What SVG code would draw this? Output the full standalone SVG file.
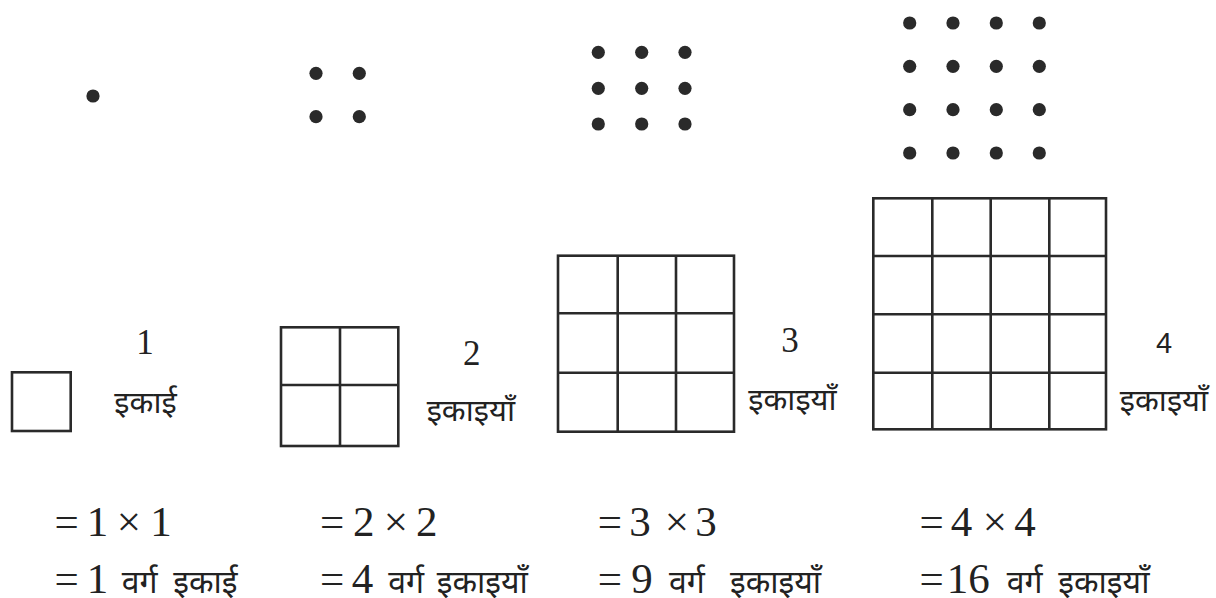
<svg xmlns="http://www.w3.org/2000/svg" width="1216" height="598" viewBox="0 0 1216 598">
<style>
.dot{fill:#2a2a2a}
.g{fill:none;stroke:#2a2a2a;stroke-width:2.6}
.num{font-family:"Liberation Serif","Times New Roman",serif;font-size:35px;fill:#222;text-anchor:middle}
.eq{font-family:"Liberation Serif","Times New Roman",serif;font-size:43px;fill:#222;text-anchor:middle}
.hi{font-family:"Noto Sans Devanagari","Noto Serif Devanagari","Noto Sans",sans-serif;font-size:31px;fill:#222}
.hb{font-family:"Noto Sans Devanagari","Noto Serif Devanagari","Noto Sans",sans-serif;font-size:32px;fill:#222}
</style>
<rect width="1216" height="598" fill="#fff"/>
<g id="dots1"><circle class="dot" cx="93" cy="96" r="6.6"/></g>
<g id="dots2">
<circle class="dot" cx="316" cy="73.3" r="6.6"/><circle class="dot" cx="359.3" cy="73.3" r="6.6"/>
<circle class="dot" cx="316" cy="116.7" r="6.6"/><circle class="dot" cx="359.3" cy="116.7" r="6.6"/>
</g>
<g id="dots3">
<circle class="dot" cx="598.3" cy="52.3" r="6.6"/><circle class="dot" cx="641.7" cy="52.3" r="6.6"/><circle class="dot" cx="685" cy="52.3" r="6.6"/>
<circle class="dot" cx="598.3" cy="88.3" r="6.6"/><circle class="dot" cx="641.7" cy="88.3" r="6.6"/><circle class="dot" cx="685" cy="88.3" r="6.6"/>
<circle class="dot" cx="598.3" cy="124" r="6.6"/><circle class="dot" cx="641.7" cy="124" r="6.6"/><circle class="dot" cx="685" cy="124" r="6.6"/>
</g>
<g id="dots4">
<circle class="dot" cx="909.7" cy="23" r="6.6"/><circle class="dot" cx="953" cy="23" r="6.6"/><circle class="dot" cx="996.3" cy="23" r="6.6"/><circle class="dot" cx="1039.3" cy="23" r="6.6"/>
<circle class="dot" cx="909.7" cy="66.3" r="6.6"/><circle class="dot" cx="953" cy="66.3" r="6.6"/><circle class="dot" cx="996.3" cy="66.3" r="6.6"/><circle class="dot" cx="1039.3" cy="66.3" r="6.6"/>
<circle class="dot" cx="909.7" cy="109.7" r="6.6"/><circle class="dot" cx="953" cy="109.7" r="6.6"/><circle class="dot" cx="996.3" cy="109.7" r="6.6"/><circle class="dot" cx="1039.3" cy="109.7" r="6.6"/>
<circle class="dot" cx="909.7" cy="153" r="6.6"/><circle class="dot" cx="953" cy="153" r="6.6"/><circle class="dot" cx="996.3" cy="153" r="6.6"/><circle class="dot" cx="1039.3" cy="153" r="6.6"/>
</g>
<g id="square1"><rect class="g" x="12" y="372.3" width="58.7" height="58.7"/></g>
<g id="square2"><rect class="g" x="281" y="327.3" width="117.3" height="118.7"/><path class="g" d="M340 327.3V446M281 385H398.3"/></g>
<g id="square3"><rect class="g" x="558" y="255.7" width="176" height="176"/><path class="g" d="M617.7 255.7V431.7M676 255.7V431.7M558 313.3H734M558 372.7H734"/></g>
<g id="square4"><rect class="g" x="873.3" y="198.3" width="232.7" height="231"/><path class="g" d="M932.3 198.3V429.3M990.7 198.3V429.3M1049.3 198.3V429.3M873.3 256H1106M873.3 314.3H1106M873.3 372.7H1106"/></g>
<g id="labels">
<text class="num" x="145" y="354">1</text>
<text class="hi" x="145.5" y="413" text-anchor="middle">इकाई</text>
<text class="num" x="471.7" y="365">2</text>
<text class="hi" x="470.8" y="421" text-anchor="middle">इकाइयाँ</text>
<text class="num" x="790" y="351.7">3</text>
<text class="hi" x="792.5" y="410" text-anchor="middle">इकाइयाँ</text>
<text class="num" x="1164" y="353.3" style="font-family:'Liberation Sans',Arial,sans-serif;font-size:29px">4</text>
<text class="hi" x="1164" y="411" text-anchor="middle">इकाइयाँ</text>
</g>
<g id="equations">
<text class="eq" y="536"><tspan x="66.7">=</tspan><tspan x="97.5">1</tspan><tspan x="129">×</tspan><tspan x="161">1</tspan></text>
<text class="eq" y="536"><tspan x="332.2">=</tspan><tspan x="363.8">2</tspan><tspan x="395.8">×</tspan><tspan x="426.7">2</tspan></text>
<text class="eq" y="536"><tspan x="610">=</tspan><tspan x="640">3</tspan><tspan x="677">×</tspan><tspan x="706">3</tspan></text>
<text class="eq" y="536"><tspan x="931.7">=</tspan><tspan x="961.5">4</tspan><tspan x="995">×</tspan><tspan x="1025">4</tspan></text>
<text class="eq" y="593"><tspan x="66.7">=</tspan><tspan x="97.5">1</tspan></text><text class="hb" x="121.7" y="593">वर्ग</text><text class="hb" x="173.3" y="593">इकाई</text>
<text class="eq" y="593"><tspan x="332.2">=</tspan><tspan x="362.5">4</tspan></text><text class="hb" x="388.3" y="593">वर्ग</text><text class="hb" x="436.7" y="593">इकाइयाँ</text>
<text class="eq" y="593"><tspan x="610">=</tspan><tspan x="642">9</tspan></text><text class="hb" x="669" y="593">वर्ग</text><text class="hb" x="730" y="593">इकाइयाँ</text>
<text class="eq" y="593"><tspan x="931.7">=</tspan><tspan x="968.3">16</tspan></text><text class="hb" x="1006.7" y="593">वर्ग</text><text class="hb" x="1058.3" y="593">इकाइयाँ</text>
</g>
</svg>
